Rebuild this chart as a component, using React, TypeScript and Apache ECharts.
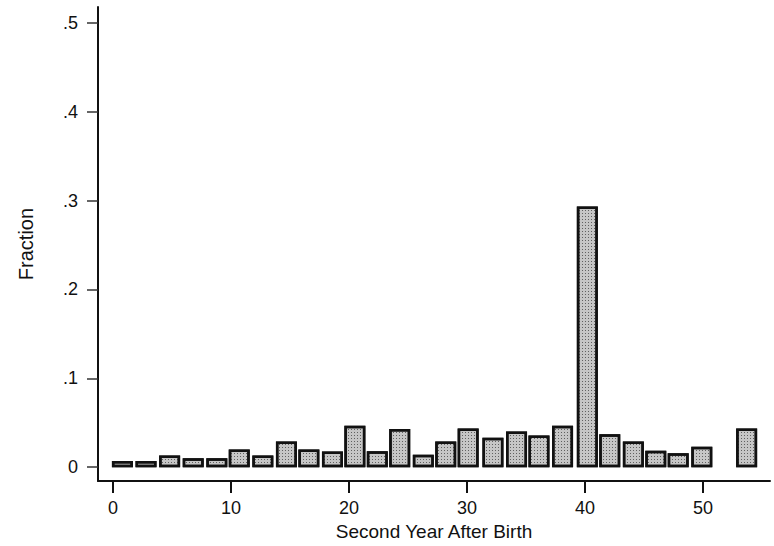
import React, { useEffect, useRef } from "react";
import * as echarts from "echarts";

// Histogram bins (centre of each bin, in years) and their fractions
const binCenters = [
  0.8, 2.8, 4.8, 6.8, 8.8, 10.7, 12.7, 14.7, 16.6, 18.6, 20.5, 22.4, 24.3,
  26.3, 28.2, 30.1, 32.2, 34.2, 36.1, 38.1, 40.2, 42.1, 44.1, 46.0, 47.9,
  49.9, 53.7,
];
const fractions = [
  0.007, 0.007, 0.013, 0.01, 0.01, 0.02, 0.013, 0.029, 0.02, 0.0175, 0.0465,
  0.018, 0.043, 0.014, 0.029, 0.0435, 0.033, 0.04, 0.0355, 0.0465, 0.2935,
  0.037, 0.029, 0.0186, 0.0156, 0.023, 0.0435,
];
const xTicks = [0, 10, 20, 30, 40, 50];
const yTicks = [0, 0.1, 0.2, 0.3, 0.4, 0.5];
const xTitle = "Second Year After Birth";
const yTitle = "Fraction";

const FONT = "Liberation Sans, Arial, Helvetica, sans-serif";

export default function App() {
  const ref = useRef<HTMLDivElement>(null);
  useEffect(() => {
    if (!ref.current) return;
    const chart = echarts.init(ref.current, undefined, { renderer: "svg" });
    chart.setOption({
      animation: false,
      backgroundColor: "#ffffff",
      grid: { left: 98, right: 4, top: 7, bottom: 62, containLabel: false },
      xAxis: {
        type: "value",
        min: -1.27,
        max: 55.68,
        name: xTitle,
        nameLocation: "middle",
        nameGap: 35,
        nameTextStyle: { fontFamily: FONT, fontSize: 19, color: "#111" },
        axisLine: { show: true, onZero: false, lineStyle: { color: "#111", width: 2 } },
        axisTick: {
          show: true,
          length: 12,
          customValues: xTicks,
          lineStyle: { color: "#111", width: 2 },
        },
        axisLabel: {
          customValues: xTicks,
          margin: 18,
          fontFamily: FONT,
          fontSize: 18,
          color: "#111",
        },
        splitLine: { show: false },
      },
      yAxis: {
        type: "value",
        min: -0.0157,
        max: 0.518,
        name: yTitle,
        nameLocation: "middle",
        nameGap: 62,
        nameRotate: 90,
        nameTextStyle: { fontFamily: FONT, fontSize: 20, color: "#111" },
        axisLine: { show: true, onZero: false, lineStyle: { color: "#111", width: 2 } },
        axisTick: {
          show: true,
          length: 11,
          customValues: yTicks,
          lineStyle: { color: "#333", width: 1.5 },
        },
        axisLabel: {
          customValues: yTicks,
          margin: 20,
          fontFamily: FONT,
          fontSize: 18,
          color: "#111",
          formatter: (v: number) =>
            v === 0 ? "0" : String(Math.round(v * 10) / 10).replace(/^0/, ""),
        },
        splitLine: { show: false },
      },
      series: [
        {
          type: "bar",
          data: binCenters.map((c, i) => [c, fractions[i]]),
          barWidth: 21,
          itemStyle: {
            color: "#c6c6c6",
            borderColor: "#111",
            borderWidth: 2.5,
            decal: {
              symbol: "rect",
              symbolSize: 1,
              color: "rgba(30,30,30,0.6)",
              dashArrayX: [1, 2],
              dashArrayY: [1, 2],
              rotation: 0,
            },
          },
        },
      ],
    });
    return () => chart.dispose();
  }, []);
  return <div ref={ref} style={{ width: 774, height: 546, position: "absolute", left: 0, top: 0 }} />;
}
